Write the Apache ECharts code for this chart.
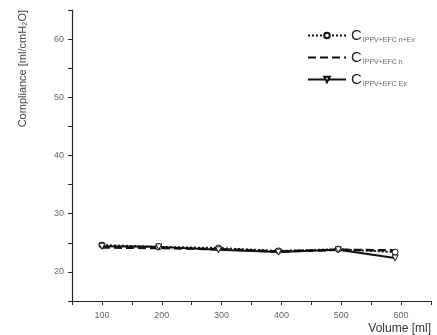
<!DOCTYPE html>
<html><head><meta charset="utf-8">
<script src="https://cdn.jsdelivr.net/npm/echarts@6/dist/echarts.min.js"></script>
<style>html,body{margin:0;padding:0;background:#fff}#c{width:437px;height:335px}</style>
</head><body><div id="c"></div>
<script>
var volumes = [100, 195, 295, 395, 495, 590];
var cNEx = [24.6, 24.3, 24.1, 23.6, 23.9, 23.4];
var cN   = [24.2, 24.1, 23.9, 23.5, 23.8, 23.7];
var cEx  = [24.4, 24.3, 23.8, 23.4, 23.8, 22.4];
var seriesNames = ['n+Ex', 'n', 'Ex'];
var yTicks = [20, 30, 40, 50, 60];
var xTicks = [100, 200, 300, 400, 500, 600];

function pairs(ys){ return volumes.map(function(v,i){ return [v, ys[i]]; }); }
var font = 'Liberation Sans, Arial, sans-serif';
var chart = echarts.init(document.getElementById('c'));
chart.setOption({
  backgroundColor: '#fff',
  animation: false,
  grid: { left: 72, right: 6, top: 10, bottom: 33 },
  xAxis: {
    type: 'value', min: 50, max: 650, interval: 50,
    axisLine: { lineStyle: { color: '#222', width: 1.2 } },
    axisTick: { inside: false, length: 4, lineStyle: { color: '#222' } },
    splitLine: { show: false },
    axisLabel: { color: '#666', fontSize: 9, fontFamily: font, margin: 10,
      formatter: function(v){ return xTicks.indexOf(v) >= 0 ? String(v) : ''; } },
    name: 'Volume [ml]', nameLocation: 'end', nameGap: 0,
    nameTextStyle: { color: '#333', fontSize: 12, fontFamily: font, align: 'right', verticalAlign: 'top', padding: [22, 0, 0, 0] }
  },
  yAxis: {
    type: 'value', min: 15, max: 65, interval: 5,
    axisLine: { show: true, lineStyle: { color: '#222', width: 1.2 } },
    axisTick: { show: true, inside: false, length: 4, lineStyle: { color: '#222' } },
    splitLine: { show: false },
    axisLabel: { color: '#666', fontSize: 9, fontFamily: font, margin: 8,
      formatter: function(v){ return yTicks.indexOf(v) >= 0 ? String(v) : ''; } }
  },
  graphic: [{
    type: 'text', left: 17, top: 10, rotation: Math.PI / 2,
    style: { text: 'Compliance [ml/cmH₂O]', fill: '#444', font: '11px ' + font }
  }],
  legend: {
    orient: 'vertical', left: 302, top: 23, itemWidth: 38, itemHeight: 7, itemGap: 6,
    data: [
      { name: 'n+Ex' },
      { name: 'n', itemStyle: { opacity: 0 } },
      { name: 'Ex' }
    ],
    formatter: function(n){ return '{c|C}{s|IPPV+EFC ' + n + '}'; },
    textStyle: { color: '#333', fontFamily: font,
      rich: { c: { fontSize: 15, color: '#222', fontFamily: font },
              s: { fontSize: 7, color: '#666', fontFamily: font, padding: [10, 0, 0, 1] } } }
  },
  series: [
    { name: 'n+Ex', type: 'line', data: pairs(cNEx), symbol: 'circle', symbolSize: 6,
      itemStyle: { color: '#fff', borderColor: '#111', borderWidth: 1 },
      lineStyle: { color: '#111', width: 2, type: [2, 2] } },
    { name: 'n', type: 'line', data: pairs(cN), symbol: 'none',
      itemStyle: { color: '#111' },
      lineStyle: { color: '#111', width: 2.5, type: [8, 4] } },
    { name: 'Ex', type: 'line', data: pairs(cEx), symbol: 'triangle', symbolRotate: 180, symbolSize: 6,
      itemStyle: { color: '#fff', borderColor: '#111', borderWidth: 1 },
      lineStyle: { color: '#111', width: 2 } }
  ]
});
</script></body></html>
